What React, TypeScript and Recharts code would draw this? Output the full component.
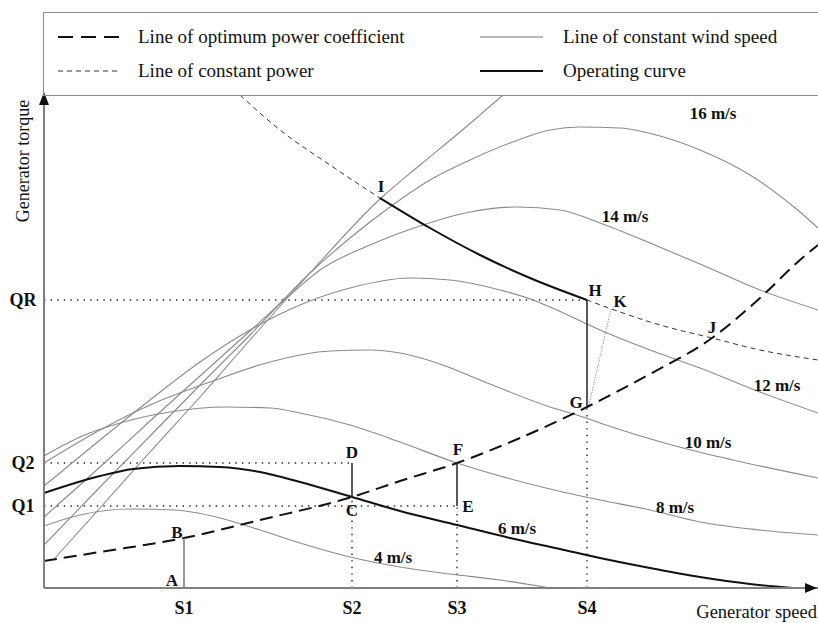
import React from "react";
import { ComposedChart, Line, XAxis, YAxis, ReferenceLine, ReferenceDot } from "recharts";

type Pt = { x: number; y: number };
const pts = (rows: number[][]): Pt[] => rows.map(([x, y]) => ({ x, y }));

// generator speed (x) vs generator torque (y), arbitrary units
const wind4 = pts([[0, 62], [36, 73], [86, 79], [131, 78], [176, 70], [216, 58], [256, 45], [306, 31], [356, 21], [406, 14], [456, 8], [506, 0]]);
const wind6 = pts([[0, 95], [56, 112], [89, 119], [136, 122], [176, 121], [216, 116], [256, 106], [308, 91], [356, 77], [413, 63], [466, 50], [516, 39], [556, 30], [606, 20], [656, 11], [706, 4], [749, 0]]);
const wind8 = pts([[0, 132], [36, 151], [76, 165], [126, 176], [181, 181], [226, 180], [256, 175], [306, 163], [356, 146], [413, 125], [456, 112], [506, 99], [556, 88], [606, 78], [656, 66], [716, 58], [774, 53]]);
const wind10 = pts([[0, 125], [56, 158], [106, 183], [166, 206], [226, 226], [286, 237], [326, 238], [356, 235], [396, 224], [436, 208], [506, 181], [539, 171], [556, 165], [639, 140], [689, 128], [774, 110]]);
const wind12 = pts([[0, 102], [56, 148], [106, 188], [156, 226], [206, 258], [256, 283], [306, 300], [366, 310], [406, 308], [456, 298], [489, 288], [506, 281], [556, 258], [606, 238], [656, 220], [716, 196], [774, 175]]);
const wind14 = pts([[0, 71], [56, 121], [106, 167], [156, 212], [206, 257], [246, 293], [276, 318], [326, 343], [379, 363], [426, 376], [473, 381], [516, 378], [556, 365], [606, 345], [656, 324], [716, 298], [774, 278]]);
const wind16 = pts([[0, 43], [56, 101], [106, 152], [156, 203], [206, 253], [266, 315], [306, 350], [346, 381], [386, 408], [426, 428], [466, 445], [506, 458], [536, 461], [576, 460], [616, 452], [656, 438], [706, 413], [756, 376], [774, 360]]);
const wind18 = pts([[11, 30], [56, 80], [106, 136], [156, 191], [206, 248], [266, 315], [336, 389], [376, 423], [416, 456], [459, 493]]);

const optimumCp = pts([[0, 27], [56, 36], [140, 50], [216, 68], [308, 91], [356, 107], [413, 125], [476, 150], [543, 181], [606, 214], [668, 250], [716, 290], [756, 328], [774, 343]]);
const constPower = pts([[196, 493], [236, 458], [286, 423], [336, 390], [386, 360], [436, 333], [486, 310], [543, 288], [576, 276], [616, 263], [668, 250], [716, 238], [774, 228]]);
const operatingIH = pts([[336, 390], [386, 360], [436, 333], [486, 310], [543, 288]]);

const speedTicks = [140, 308, 413, 543];
const speedNames = ["S1", "S2", "S3", "S4"];
const torqueTicks = [82, 125, 288];
const torqueNames = ["Q1", "Q2", "QR"];

// operating-curve steps A-B, C-D, E-F, G-H
const stepSegments = [
  [[140, 0], [140, 50]],
  [[308, 91], [308, 125]],
  [[413, 82], [413, 125]],
  [[543, 181], [543, 288]],
];
const guideSegments = [
  [[0, 288], [543, 288]],
  [[0, 125], [308, 125]],
  [[0, 82], [413, 82]],
  [[308, 0], [308, 91]],
  [[413, 0], [413, 82]],
  [[543, 0], [543, 181]],
];
const gkSegment = [[545, 183], [567, 279]];

const pointLabels = [
  { text: "A", x: 128, y: 8 },
  { text: "B", x: 133, y: 56 },
  { text: "C", x: 308, y: 78 },
  { text: "D", x: 308, y: 136 },
  { text: "E", x: 424, y: 82 },
  { text: "F", x: 414, y: 139 },
  { text: "G", x: 532, y: 186 },
  { text: "H", x: 551, y: 298 },
  { text: "K", x: 576, y: 287 },
  { text: "J", x: 668, y: 261 },
  { text: "I", x: 337, y: 402 },
];
const windLabels = [
  { text: "16 m/s", x: 669, y: 475 },
  { text: "14 m/s", x: 581, y: 372 },
  { text: "12 m/s", x: 733, y: 203 },
  { text: "10 m/s", x: 664, y: 146 },
  { text: "8 m/s", x: 631, y: 81 },
  { text: "6 m/s", x: 473, y: 60 },
  { text: "4 m/s", x: 349, y: 31 },
];

const FONT = '"Liberation Serif", "Times New Roman", serif';
const GREY = "#8a8a8a";

function SpeedTick({ x, y, payload }: any) {
  const i = speedTicks.indexOf(payload.value);
  return (
    <text x={x} y={y + 12} textAnchor="middle" dominantBaseline="central" fontFamily={FONT} fontSize={18} fontWeight={700} fill="#111">
      {speedNames[i]}
    </text>
  );
}

function TorqueTick({ y, payload }: any) {
  const i = torqueTicks.indexOf(payload.value);
  return (
    <text x={23} y={y} textAnchor="middle" dominantBaseline="central" fontFamily={FONT} fontSize={18} fontWeight={700} fill="#111">
      {torqueNames[i]}
    </text>
  );
}

function LegendSample({ left, top, dash, width, color }: any) {
  return (
    <svg style={{ position: "absolute", left, top: top - 5 }} width={64} height={10}>
      <line x1={0} y1={5} x2={63} y2={5} stroke={color} strokeWidth={width} strokeDasharray={dash} />
    </svg>
  );
}

function LegendText({ left, top, children }: any) {
  return (
    <div style={{ position: "absolute", left, top: top - 12, lineHeight: "24px", fontFamily: FONT, fontSize: 19, color: "#111", whiteSpace: "nowrap" }}>
      {children}
    </div>
  );
}

export default function App() {
  const wind = [wind4, wind8, wind10, wind12, wind14, wind16, wind18];
  return (
    <div style={{ position: "absolute", left: 0, top: 0, width: 818, height: 623, overflow: "hidden", background: "#fff" }}>
      <ComposedChart width={818} height={623} margin={{ top: 95, right: 0, bottom: 0, left: 0 }}>
        <XAxis
          dataKey="x"
          type="number"
          domain={[0, 774]}
          allowDataOverflow
          ticks={speedTicks}
          tick={<SpeedTick />}
          tickLine={false}
          height={35}
          axisLine={{ stroke: "#808080", strokeWidth: 2 }}
          label={{
            content: ({ viewBox }: any) => (
              <text x={viewBox.x + viewBox.width - 1} y={viewBox.y + 24} textAnchor="end" dominantBaseline="central" fontFamily={FONT} fontSize={18.5} fill="#111">
                Generator speed
              </text>
            ),
          }}
        />
        <YAxis
          type="number"
          domain={[0, 493]}
          allowDataOverflow
          ticks={torqueTicks}
          tick={<TorqueTick />}
          tickLine={false}
          width={44}
          axisLine={{ stroke: "#808080", strokeWidth: 2 }}
          label={{
            content: ({ viewBox }: any) => (
              <text
                transform={`translate(${viewBox.x + 23}, ${viewBox.y + 66}) rotate(-90)`}
                textAnchor="middle"
                dominantBaseline="central"
                fontFamily={FONT}
                fontSize={18}
                fill="#111"
              >
                Generator torque
              </text>
            ),
          }}
        />

        {guideSegments.map((s, i) => (
          <ReferenceLine key={`g${i}`} segment={[{ x: s[0][0], y: s[0][1] }, { x: s[1][0], y: s[1][1] }]} stroke="#222" strokeWidth={1.4} strokeDasharray="1.4 5.2" ifOverflow="visible" />
        ))}
        <ReferenceLine segment={[{ x: gkSegment[0][0], y: gkSegment[0][1] }, { x: gkSegment[1][0], y: gkSegment[1][1] }]} stroke="#777" strokeWidth={1} strokeDasharray="1 1.5" ifOverflow="visible" />

        {wind.map((d, i) => (
          <Line key={`w${i}`} data={d} dataKey="y" type="monotone" stroke={GREY} strokeWidth={1.1} dot={false} activeDot={false} isAnimationActive={false} />
        ))}
        <Line data={wind6} dataKey="y" type="monotone" stroke="#111" strokeWidth={2} dot={false} activeDot={false} isAnimationActive={false} />
        <Line data={constPower} dataKey="y" type="monotone" stroke="#333" strokeWidth={1} strokeDasharray="5 4" dot={false} activeDot={false} isAnimationActive={false} />
        <Line data={operatingIH} dataKey="y" type="monotone" stroke="#111" strokeWidth={2} dot={false} activeDot={false} isAnimationActive={false} />
        <Line data={optimumCp} dataKey="y" type="monotone" stroke="#111" strokeWidth={2} strokeDasharray="13 7" dot={false} activeDot={false} isAnimationActive={false} />

        {stepSegments.map((s, i) => (
          <ReferenceLine key={`s${i}`} segment={[{ x: s[0][0], y: s[0][1] }, { x: s[1][0], y: s[1][1] }]} stroke={i === 0 ? "#777" : "#222"} strokeWidth={1.5} ifOverflow="visible" />
        ))}
        <ReferenceLine segment={[{ x: 0, y: 423 }, { x: 0, y: 493 }]} stroke="#111" strokeWidth={2} ifOverflow="visible" />

        <ReferenceDot
          x={0}
          y={493}
          r={0}
          ifOverflow="visible"
          shape={(p: any) => <path d={`M${p.cx},${p.cy - 3} l-5,13 l10,0 z`} fill="#111" />}
        />
        <ReferenceDot
          x={774}
          y={0}
          r={0}
          ifOverflow="visible"
          shape={(p: any) => <path d={`M${p.cx - 1},${p.cy} l-12,-5 l0,10 z`} fill="#111" />}
        />

        {[...pointLabels, ...windLabels].map((l) => (
          <ReferenceDot
            key={l.text}
            x={l.x}
            y={l.y}
            r={0}
            fill="none"
            stroke="none"
            ifOverflow="visible"
            label={{ value: l.text, position: "center", fill: "#111", fontSize: 17, fontWeight: 700, fontFamily: FONT }}
          />
        ))}
      </ComposedChart>

      <div style={{ position: "absolute", left: 43, top: 12, width: 800, height: 84, border: "1.5px solid #8c8c8c", borderRight: "none", boxSizing: "border-box" }} />
      <LegendSample left={58} top={37} dash="15 8" width={2} color="#111" />
      <LegendText left={138} top={37}>Line of optimum power coefficient</LegendText>
      <LegendSample left={480} top={37} width={1.1} color="#777" />
      <LegendText left={563} top={37}>Line of constant wind speed</LegendText>
      <LegendSample left={58} top={71} dash="5 4" width={1} color="#333" />
      <LegendText left={138} top={71}>Line of constant power</LegendText>
      <LegendSample left={480} top={71} width={2.2} color="#111" />
      <LegendText left={563} top={71}>Operating curve</LegendText>
    </div>
  );
}
